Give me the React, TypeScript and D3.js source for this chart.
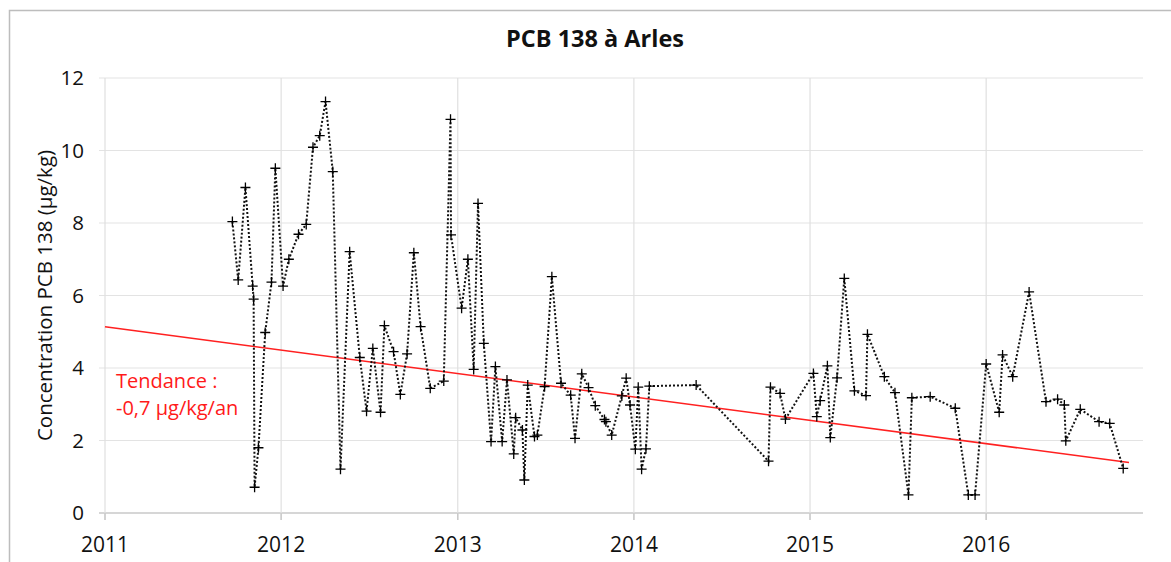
import React from "react";
import * as d3 from "d3";

const dates: string[] = [
  "2011-09-22","2011-10-04","2011-10-19","2011-11-03","2011-11-05","2011-11-07","2011-11-15","2011-11-29","2011-12-12","2011-12-20",
  "2012-01-05","2012-01-17","2012-02-06","2012-02-22","2012-03-07","2012-03-21","2012-04-02","2012-04-17","2012-05-03","2012-05-22",
  "2012-06-12","2012-06-26","2012-07-09","2012-07-25","2012-08-02","2012-08-21","2012-09-04","2012-09-18","2012-10-02","2012-10-16",
  "2012-11-05","2012-12-03","2012-12-17","2012-12-18","2013-01-09","2013-01-22","2013-02-03","2013-02-12","2013-02-24","2013-03-11",
  "2013-03-20","2013-04-03","2013-04-13","2013-04-27","2013-05-01","2013-05-15","2013-05-19","2013-05-26","2013-06-09","2013-06-15",
  "2013-06-30","2013-07-15","2013-08-03","2013-08-23","2013-09-01","2013-09-15","2013-09-29","2013-10-13","2013-11-01","2013-11-04",
  "2013-11-16","2013-12-07","2013-12-16","2013-12-24","2014-01-04","2014-01-10","2014-01-17","2014-01-26","2014-02-02","2014-05-10",
  "2014-10-07","2014-10-11","2014-10-31","2014-11-11","2015-01-08","2015-01-15","2015-01-22","2015-02-06","2015-02-12","2015-02-26",
  "2015-03-13","2015-04-03","2015-04-27","2015-04-30","2015-06-04","2015-06-26","2015-07-24","2015-07-31","2015-09-07","2015-10-29",
  "2015-11-25","2015-12-09","2016-01-01","2016-01-28","2016-02-04","2016-02-25","2016-03-30","2016-05-04","2016-05-28","2016-06-11",
  "2016-06-14","2016-07-14","2016-08-22","2016-09-13","2016-10-11",
];

const values: number[] = [
  8.04, 6.43, 8.98, 6.26, 5.9, 0.71, 1.8, 4.98, 6.37, 9.51,
  6.26, 7.0, 7.69, 7.96, 10.09, 10.41, 11.35, 9.42, 1.21, 7.21,
  4.29, 2.81, 4.54, 2.78, 5.17, 4.45, 3.27, 4.39, 7.18, 5.14,
  3.44, 3.64, 10.86, 7.67, 5.65, 7.0, 3.96, 8.54, 4.68, 1.97,
  4.04, 1.97, 3.67, 1.63, 2.63, 2.29, 0.91, 3.53, 2.11, 2.15,
  3.49, 6.52, 3.58, 3.25, 2.06, 3.84, 3.46, 2.96, 2.58, 2.52,
  2.15, 3.23, 3.72, 2.98, 1.76, 3.47, 1.21, 1.77, 3.5, 3.53,
  1.43, 3.47, 3.3, 2.59, 3.85, 2.66, 3.1, 4.06, 2.08, 3.73,
  6.47, 3.37, 3.24, 4.93, 3.76, 3.32, 0.5, 3.18, 3.21, 2.89,
  0.5, 0.5, 4.11, 2.78, 4.36, 3.76, 6.1, 3.07, 3.14, 2.98,
  1.99, 2.86, 2.52, 2.47, 1.23,
];

const trendDates: string[] = ["2011-01-01", "2016-10-23"];
const trendValues: number[] = [5.14, 1.39];

const yTicks: number[] = [0, 2, 4, 6, 8, 10, 12];
const xTickYears: number[] = [2011, 2012, 2013, 2014, 2015, 2016];

const title = "PCB 138 à Arles";
const yLabel = "Concentration PCB 138 (µg/kg)";
const trendLabel1 = "Tendance :";
const trendLabel2 = "-0,7 µg/kg/an";

const W = 1171;
const H = 562;
const FONT = "'Open Sans', 'DejaVu Sans', sans-serif";

export default function App() {
  const parse = d3.timeParse("%Y-%m-%d");
  const x = d3
    .scaleTime()
    .domain([new Date(2011, 0, 1), new Date(2016, 10, 21)])
    .range([105, 1143]);
  const y = d3.scaleLinear().domain([0, 12]).range([513, 78]);

  const pts = dates.map((d, i) => ({ t: parse(d) as Date, v: values[i] }));
  const line = d3
    .line<{ t: Date; v: number }>()
    .x((d) => x(d.t))
    .y((d) => y(d.v));
  const trend = trendDates.map((d, i) => ({ t: parse(d) as Date, v: trendValues[i] }));

  const [x0, x1] = x.range();
  const [yb, yt] = y.range();
  const m = 5;

  return (
    <svg
      width={W}
      height={H}
      style={{ position: "absolute", left: 0, top: 0, background: "#fff" }}
    >
      <rect x={0} y={0} width={W} height={H} fill="#fff" />
      <rect x={9.5} y={10.5} width={1300} height={700} fill="none" stroke="#bdbdbd" strokeWidth={1.5} />
      <text
        x={595}
        y={47}
        textAnchor="middle"
        fontFamily={FONT}
        fontWeight="bold"
        fontSize={23.5}
        fill="#111"
      >
        {title}
      </text>

      {yTicks.map((t) => (
        <g key={"y" + t}>
          <line
            x1={x0 - 6}
            x2={x1}
            y1={y(t)}
            y2={y(t)}
            stroke={t === 0 ? "#c8c8c8" : "#e3e3e3"}
            strokeWidth={t === 0 ? 1.6 : 1.2}
          />
          <text
            x={84}
            y={y(t)}
            dy="0.36em"
            textAnchor="end"
            fontFamily={FONT}
            fontSize={20.5}
            fill="#111"
          >
            {t}
          </text>
        </g>
      ))}

      {xTickYears.map((yr) => {
        const px = x(new Date(yr, 0, 1));
        return (
          <g key={"x" + yr}>
            <line x1={px} x2={px} y1={yt} y2={yb + 7} stroke="#e0e0e0" strokeWidth={1.2} />
            <line x1={px} x2={px} y1={yb} y2={yb + 7} stroke="#c8c8c8" strokeWidth={1.4} />
            <text
              x={px}
              y={552}
              textAnchor="middle"
              fontFamily={FONT}
              fontSize={21}
              fill="#111"
            >
              {yr}
            </text>
          </g>
        );
      })}

      <text
        transform={`translate(45, ${(yt + yb) / 2}) rotate(-90)`}
        textAnchor="middle"
        dy="0.35em"
        fontFamily={FONT}
        fontSize={20.5}
        fill="#111"
      >
        {yLabel}
      </text>

      <path d={line(trend) || ""} fill="none" stroke="#ff2020" strokeWidth={1.5} />

      <path
        d={line(pts) || ""}
        fill="none"
        stroke="#111"
        strokeWidth={2}
        strokeDasharray="2 2"
      />
      {pts.map((p, i) => {
        const cx = x(p.t);
        const cy = y(p.v);
        return (
          <path
            key={"m" + i}
            d={`M${cx - m},${cy}H${cx + m}M${cx},${cy - m}V${cy + m}`}
            stroke="#000"
            strokeWidth={1.3}
          />
        );
      })}

      <text x={116} y={388} fontFamily={FONT} fontSize={20} fill="#ff1a1a">
        {trendLabel1}
      </text>
      <text x={116} y={415} fontFamily={FONT} fontSize={20} fill="#ff1a1a">
        {trendLabel2}
      </text>
    </svg>
  );
}
